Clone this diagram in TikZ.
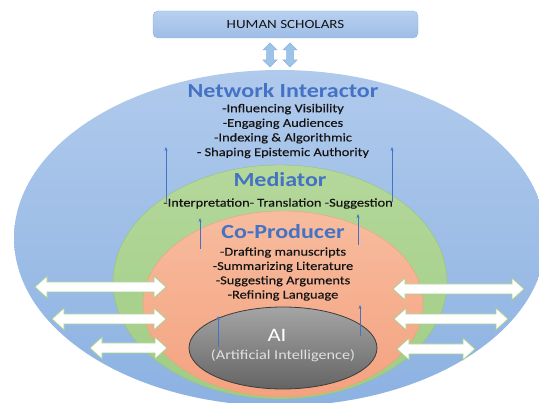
\documentclass[tikz,border=0pt]{standalone}
\usepackage{fontspec}
\setmainfont{Carlito}[FakeStretch=1.2]
\newfontfamily\itemfont{Carlito}[FakeStretch=1.2, FakeBold=0.35]
\usetikzlibrary{shapes.geometric,arrows.meta}
\definecolor{titleblue}{RGB}{68,114,196}
\definecolor{itemtext}{RGB}{20,20,20}
\definecolor{arrowgreen}{RGB}{169,209,142}
\definecolor{boxedge}{RGB}{143,178,224}
\definecolor{liftblue}{RGB}{157,195,230}
\newcommand{\whitearrow}[3] {\draw [wharrow] (#1,#3) -- ++(12,-11) -- ++(0,6) -- (#2-12,#3-5) -- ++(0,-6) -- (#2,#3) -- ++(-12,11) -- ++(0,-6) -- (#1+12,#3+5) -- ++(0,6) -- cycle;}
\newcommand{\liftarrow}[3] {\draw [liftarrow] (#1,#2) -- ++(7,7) -- ++(-3.5,0) -- (#1+3.5,#3-7) -- ++(3.5,0) -- (#1,#3) -- ++(-7,-7) -- ++(3.5,0) -- (#1-3.5,#2+7) -- ++(-3.5,0) -- cycle;}
\newcommand{\riseline}[4] {\coordinate (#1s) at (#2,#3); \coordinate (#1e) at (#2,#4); \draw [uparrow] (#1s) -- (#1e);}

\begin{document}
\begin{tikzpicture}[x=1pt,y=-1pt,
  layer/.style={ellipse, inner sep=0pt},
  title/.style={font=\fontsize{20}{23}\selectfont\bfseries, text=titleblue, inner sep=0.5pt},
  items/.style={font=\itemfont\fontsize{12}{14.6}\selectfont, text=itemtext, align=center, inner sep=0.5pt},
  wharrow/.style={draw=arrowgreen, fill=white, line width=0.8pt},
  liftarrow/.style={draw=boxedge, fill=liftblue, line width=0.5pt},
  uparrow/.style={draw=titleblue, line width=0.6pt, -{Stealth[length=4pt,width=3pt]}}]

\useasboundingbox (0,0) rectangle (539,403);
\clip (0,0) rectangle (539,403);

% top box
\node (scholars) at (285.5,24.5) [rounded corners=5pt, minimum width=265pt, minimum height=27pt,
  top color={rgb,255:red,184;green,208;blue,240}, bottom color={rgb,255:red,157;green,189;blue,230},
  draw=boxedge, font=\fontsize{12.5}{14}\selectfont, text=itemtext] {HUMAN SCHOLARS};
\liftarrow{270}{43}{67};
\liftarrow{290}{43}{67};

% nested layers
\node (outer) at (280,238) [layer, minimum width=532pt, minimum height=336pt,
  top color={rgb,255:red,176;green,202;blue,236}, bottom color={rgb,255:red,140;green,178;blue,226}] {};
\node (middle) at (280,282) [layer, minimum width=334pt, minimum height=234pt, draw={rgb,255:red,150;green,195;blue,120},
  top color={rgb,255:red,180;green,216;blue,155}, bottom color={rgb,255:red,160;green,204;blue,132}] {};
\node (inner) at (283,304) [layer, minimum width=280pt, minimum height=186pt, draw={rgb,255:red,240;green,160;blue,120},
  top color={rgb,255:red,247;green,188;blue,158}, bottom color={rgb,255:red,244;green,162;blue,128}] {};
\node (ai) at (283,348) [layer, minimum width=188pt, minimum height=82pt, draw={rgb,255:red,60;green,60;blue,60}, line width=0.8pt,
  top color={rgb,255:red,165;green,165;blue,165}, bottom color={rgb,255:red,100;green,100;blue,100}] {};

% labels
\node (net) at (283,91) [title] {Network Interactor};
\node (netitems) at (283,131) [items] {-Influencing Visibility\\-Engaging Audiences\\-Indexing \& Algorithmic\\- Shaping Epistemic Authority};
\node (med) at (280,180) [title] {Mediator};
\node (meditems) at (278,203.5) [items] {-Interpretation- Translation -Suggestion};
\node (cop) at (283,232) [title] {Co-Producer};
\node (copitems) at (283,274) [items, font=\itemfont\fontsize{12}{14.3}\selectfont] {-Drafting manuscripts\\-Summarizing Literature\\-Suggesting Arguments\\-Refining Language};
\node (ainame) at (277,335) [font=\fontsize{19}{22}\selectfont, text=white, inner sep=0.5pt] {AI};
\node (aifull) at (283,356) [font=\fontsize{13.5}{15}\selectfont, text={rgb,255:red,225;green,225;blue,225}, inner sep=0.5pt] {(Artificial Intelligence)};

% upward arrows
\riseline{r1}{166}{202}{147};
\riseline{r2}{392}{202}{147};
\riseline{r3}{200}{249}{218};
\riseline{r4}{358}{245}{214};
\riseline{r5}{218}{347}{316};
\riseline{r6}{360}{336}{305};

% exchange arrows
\whitearrow{35}{166}{287};
\whitearrow{52}{166}{319};
\whitearrow{90}{167}{348};
\whitearrow{393}{524}{289};
\whitearrow{394}{508}{319};
\whitearrow{397}{475}{349};

\end{tikzpicture}
\end{document}
